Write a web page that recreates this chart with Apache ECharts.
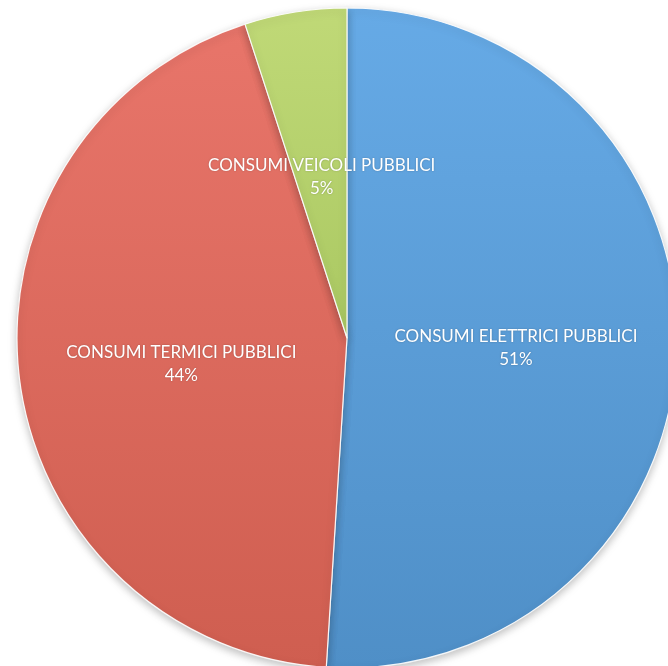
<!DOCTYPE html>
<html>
<head>
<meta charset="utf-8">
<script src="https://cdn.jsdelivr.net/npm/echarts@6/dist/echarts.min.js"></script>
<style>
html,body{margin:0;padding:0;background:#fff;}
#chart{width:668px;height:666px;}
</style>
</head>
<body>
<div id="chart"></div>
<script>
const categories = ['CONSUMI ELETTRICI PUBBLICI', 'CONSUMI TERMICI PUBBLICI', 'CONSUMI VEICOLI PUBBLICI'];
const values = [51, 44, 5];
const colorsTop = ['#66aae6', '#e8756a', '#c0d977'];
const colorsBottom = ['#4f8fc7', '#cf5e50', '#aac862'];

const chart = echarts.init(document.getElementById('chart'), null, {renderer: 'canvas'});
const data = categories.map((c, i) => ({
  name: c,
  value: values[i],
  itemStyle: {
    color: new echarts.graphic.LinearGradient(0, 0, 0, 1, [
      {offset: 0, color: colorsTop[i]},
      {offset: 1, color: colorsBottom[i]}
    ])
  }
}));
chart.setOption({
  animation: false,
  series: [{
    type: 'pie',
    center: [347, 338],
    radius: 330,
    startAngle: 90,
    clockwise: true,
    avoidLabelOverlap: false,
    data: data,
    itemStyle: {
      borderColor: 'rgba(255,255,255,0.9)',
      borderWidth: 1.2,
      shadowColor: 'rgba(0,0,0,0.25)',
      shadowBlur: 8,
      shadowOffsetY: 3
    },
    label: {
      show: true,
      position: 'inside',
      formatter: '{b}\n{d}%',
      color: '#ffffff',
      fontFamily: 'Lato, "DejaVu Sans", sans-serif',
      fontSize: 17,
      lineHeight: 23,
      align: 'center',
      offset: [1, 5],
      textShadowColor: 'rgba(0,0,0,0.25)',
      textShadowBlur: 2
    },
    labelLine: {show: false},
    emphasis: {disabled: true}
  }]
});
</script>
</body>
</html>
